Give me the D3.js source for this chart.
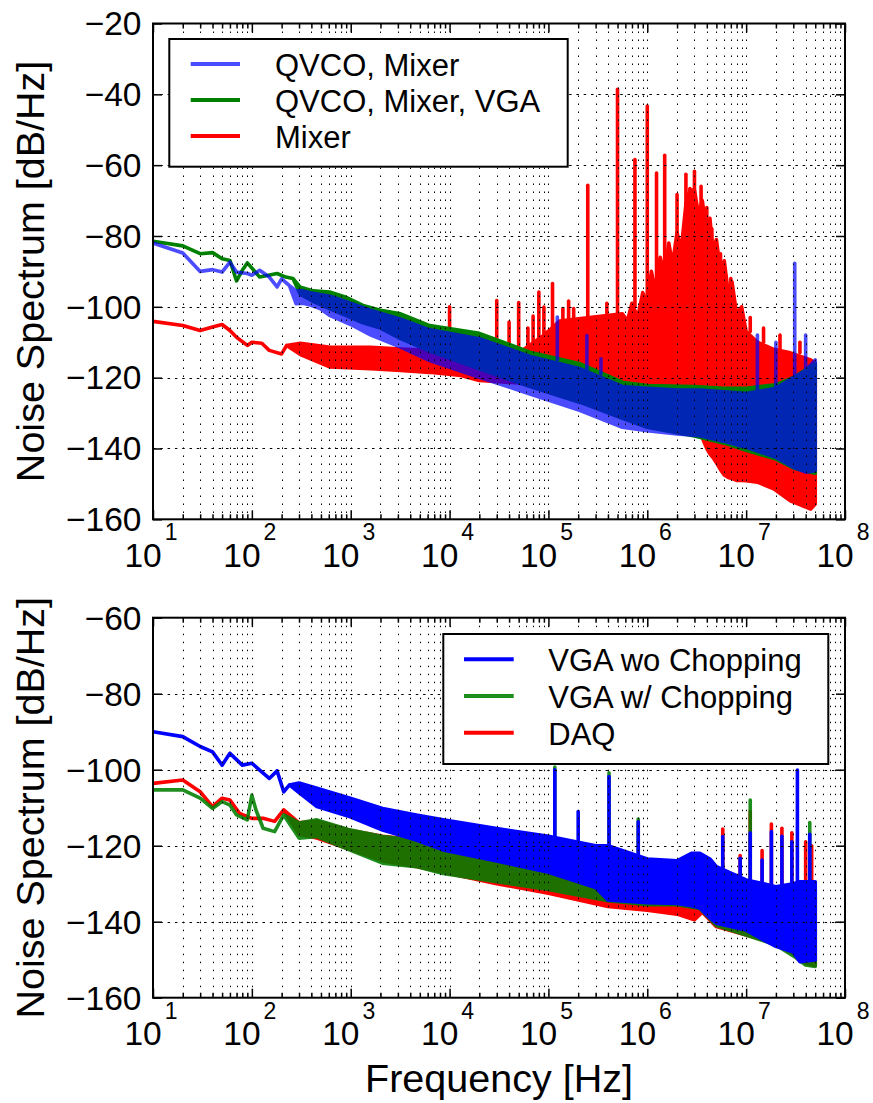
<!DOCTYPE html>
<html><head><meta charset="utf-8">
<script src="https://cdn.jsdelivr.net/npm/d3@7"></script>
<style>
body{margin:0;background:#fff}
svg{display:block}
text{font-family:"Liberation Sans",Arial,Helvetica,sans-serif;fill:#000}
</style>
</head><body>
<svg id="c" width="873" height="1103"></svg>
<script>
// ---------------- DATA ----------------
const xTickExps = [1,2,3,4,5,6,7,8];
const minorMults = [2,3,4,5,6,7,8,9];
const topYTicks = [-160,-140,-120,-100,-80,-60,-40,-20];
const botYTicks = [-160,-140,-120,-100,-80,-60];
const xLabel = "Frequency [Hz]";
const yLabel = "Noise Spectrum [dB/Hz]";
const topLegend = ["QVCO, Mixer", "QVCO, Mixer, VGA", "Mixer"];
const botLegend = ["VGA wo Chopping", "VGA w/ Chopping", "DAQ"];

// Top panel: QVCO, Mixer (blue)
const topBlueF  = [10,20,30,40,50,60,70,90,100,120,150,180,200,240,280,330,390,490,620,1000,1600,3200,6300,2e4,6.5e4,2.1e5,5.6e5,1e6,2e6,3.4e6,6e6,1e7,2e7,3e7,4e7,5e7];
const topBlueHi = [-82,-84.8,-90,-89.5,-90.2,-87.4,-90.2,-90.6,-91.1,-89.7,-91.6,-94.4,-92.1,-94,-95.5,-95.5,-96,-96.5,-97,-99,-101,-103.5,-106.5,-109,-114,-117.5,-122.5,-123,-123.5,-123.5,-124,-124.5,-123,-120,-118,-115];
const topBlueLo = [-82,-84.8,-90,-89.5,-90.2,-87.4,-90.2,-90.6,-91.1,-89.7,-91.6,-94.4,-92.1,-94,-99.1,-99,-99.5,-100.5,-102.5,-105,-108,-111.4,-115.2,-119.9,-124.6,-129.3,-134,-135,-135.9,-136.4,-138,-139.7,-142.5,-145.3,-146.7,-146.3];
const topBlueSpikes = [[1.23e5,-115,-102.9],[2.45e5,-118,-108.1],[3.4e5,-119,-114.7],[1.3e7,-124,-108],[2e7,-123,-110],[3.1e7,-120,-87.7],[4e7,-118,-108]];

// Top panel: QVCO, Mixer, VGA (green)
const topGreenF  = [10,20,30,40,50,60,70,80,90,120,180,220,260,310,420,610,900,1330,2000,3200,6300,2e4,6.5e4,2.1e5,5.6e5,1e6,3e6,6e6,1e7,2e7,3e7,5e7];
const topGreenHi = [-81.5,-82.8,-85,-84.7,-86.4,-86.9,-92.7,-89.7,-87.6,-91.6,-90.6,-91.6,-92,-94.5,-95.5,-95.8,-97.3,-99.6,-101,-102,-105.3,-107.5,-112.8,-116.1,-121.3,-122.2,-122.5,-123,-123,-122,-120,-116];
const topGreenLo = [-81.5,-82.8,-85,-84.7,-86.4,-86.9,-92.7,-89.7,-87.6,-91.6,-90.6,-91.6,-92,-96.5,-98.5,-100.5,-102.5,-104.5,-106,-109,-112.5,-117.5,-122.5,-127,-131.5,-134,-136.5,-138.5,-140.5,-143,-145.5,-147];
const topGreenSpikes = [];

// Top panel: Mixer (red)
const topRedF  = [10,20,30,40,50,60,70,90,100,126,150,200,225,310,620,1600,3200,6300,1.3e4,2e4,5e4,9e4,1.3e5,2.6e5,5.6e5,6.3e5,7e5,8e5,9e5,1e6,1.1e6,1.2e6,1.35e6,1.5e6,1.65e6,1.8e6,2e6,2.2e6,2.46e6,2.7e6,3e6,3.3e6,3.6e6,4e6,4.3e6,4.6e6,5e6,5.5e6,6e6,6.6e6,7.2e6,8e6,9e6,1e7,1.3e7,1.9e7,2.8e7,4.5e7,5e7];
const topRedHi = [-104.1,-105.3,-106.7,-105.7,-105,-106.7,-108.6,-110.9,-110,-110.3,-112.3,-113.3,-110.9,-110.3,-111.4,-111.4,-111.9,-112.3,-112.5,-113,-113,-108,-104,-103,-102,-104,-99,-103,-96,-99,-90,-95,-86,-91,-82,-88,-79,-84,-71,-67,-67,-74,-70,-79,-75,-84,-81,-90,-87,-96,-93,-102,-100,-107,-110,-112,-113,-115,-116];
const topRedLo = [-104.1,-105.3,-106.7,-105.7,-105,-106.7,-108.6,-110.9,-110,-110.3,-112.3,-113.3,-110.9,-113.5,-117,-117.5,-118,-118.5,-119.4,-120.8,-121.5,-123,-124,-126,-129,-129.5,-130,-130.5,-131,-131.5,-132,-132.5,-133,-133.5,-134,-134,-134.5,-135,-135,-135.5,-136,-136.5,-137,-140,-141.5,-142.5,-144,-146,-147.5,-148.2,-148.5,-149,-149,-149.1,-149.5,-151.4,-154.8,-157.1,-155.7];
const topRedSpikes = [[1e4,-112,-100],[3e4,-112,-98.2],[4e4,-112,-104.3],[5e4,-112,-98.8],[6.2e4,-112,-106],[7e4,-112,-102.6],[8e4,-110,-95.8],[9e4,-108,-100.1],[1.1e5,-106,-93.4],[1.4e5,-104,-100.5],[1.6e5,-104,-98.4],[1.8e5,-104,-100.5],[2.5e5,-103,-65.7],[3.9e5,-103,-99],[5e5,-102,-38.6],[7.5e5,-100,-58.4],[1e6,-97,-43.3],[1.24e6,-93,-62.2],[1.5e6,-90,-57.2],[2e6,-84,-68.3],[2.46e6,-78,-62.6],[2.7e6,-77,-66.6],[3e6,-76,-61.7],[3.5e6,-78,-66],[4e6,-80,-72],[4.5e6,-85,-78],[5.5e6,-90,-85],[7e6,-98,-92],[1.1e7,-107,-103],[1.5e7,-110,-106],[2.2e7,-112,-108],[3.5e7,-113,-110]];

// Bottom panel: VGA wo Chopping (blue)
const botBlueF  = [10,20,30,40,50,60,80,100,120,150,180,210,240,300,455,990,2100,4600,8600,3e4,1e5,3e5,4e5,1e6,2e6,2.8e6,3.4e6,4.3e6,5e6,1e7,1.5e7,2e7,3e7,3.5e7,5e7];
const botBlueHi = [-90,-91.3,-93.9,-95.3,-98.8,-95.7,-98.8,-98.3,-100.1,-102.3,-100.3,-105.8,-104,-103.5,-104.9,-107.5,-110.2,-111.9,-113.2,-115.5,-117.5,-120,-120,-123.5,-124,-122,-122,-123.5,-125.5,-129,-130,-130.8,-130,-129.5,-129.5];
const botBlueLo = [-90,-91.3,-93.9,-95.3,-98.8,-95.7,-98.8,-98.3,-100.1,-102.3,-100.3,-105.8,-104,-106,-109.7,-112.4,-115.9,-118.5,-121.1,-124,-127,-131,-134.3,-135,-135.2,-135.8,-136.4,-139,-140.4,-142.2,-144.8,-146.5,-148,-150.5,-150.1];
const botBlueSpikes = [[1.16e5,-118,-100],[2e5,-120,-111],[4.1e5,-121,-101.8],[8.1e5,-123,-113.7],[5.8e6,-126,-117.6],[8.7e6,-128,-123.3],[1.1e7,-129,-116.7],[1.45e7,-130,-123.8],[1.8e7,-130,-116.3],[2.3e7,-130,-117.5],[2.9e7,-130,-119],[3.3e7,-130,-100.1],[4.4e7,-130,-117]];

// Bottom panel: VGA w/ Chopping (green)
const botGreenF  = [10,20,30,40,50,60,70,90,100,110,130,170,210,300,455,1e3,2.1e3,4.6e3,8.6e3,3e4,1e5,4e5,1e6,2e6,3.4e6,5e6,1e7,1.5e7,2e7,3e7,4e7,5e7];
const botGreenHi = [-105.3,-105.3,-107.5,-110.2,-108.4,-109.3,-111.9,-113.2,-106.7,-110.6,-115.4,-116.3,-111.9,-114,-113.2,-115.9,-117.6,-118.5,-118.5,-120,-122,-124,-125,-125,-124.5,-127,-130,-131,-132,-132,-131.5,-131.5];
const botGreenLo = [-105.3,-105.3,-107.5,-110.2,-108.4,-109.3,-111.9,-113.2,-106.7,-110.6,-115.4,-116.3,-111.9,-118,-117.6,-121.2,-124.6,-125.5,-127.3,-129.5,-131.5,-134.5,-135.5,-135.5,-136.5,-141,-143.5,-145,-146.1,-149,-151.4,-151.8];
const botGreenSpikes = [[1.16e5,-123,-99.3],[4.1e5,-125,-100.8],[8.1e5,-126,-113],[1.1e7,-131,-108],[4.4e7,-132,-113.9]];

// Bottom panel: DAQ (red)
const botRedF  = [10,20,30,40,50,60,75,100,130,170,210,300,455,1e3,2.1e3,4.6e3,8.6e3,3e4,1e5,4e5,1e6,2e6,3e6,3.6e6,5e6,1e7,1.5e7,2e7,3e7,4e7,5e7];
const botRedHi = [-103.6,-102.7,-105.8,-109.7,-107.5,-108,-111.5,-112.8,-112.8,-113.6,-110.6,-114,-113.5,-116,-117.5,-118.5,-119,-120.5,-122.5,-124.5,-125.5,-125.5,-125,-125,-127.5,-130.5,-131.5,-132.5,-132.5,-132,-132];
const botRedLo = [-103.6,-102.7,-105.8,-109.7,-107.5,-108,-111.5,-112.8,-112.8,-113.6,-110.6,-117,-118,-121,-124,-125.5,-127,-130,-132.5,-136,-137,-138,-139.5,-137.5,-141.3,-143.5,-144.8,-146,-148.5,-151,-151.5];
const botRedSpikes = [[5.8e6,-128,-115.6],[8.7e6,-130,-122.6],[1.1e7,-131,-111],[1.45e7,-131,-121.3],[1.8e7,-132,-114.3],[2.3e7,-132,-115.4],[2.9e7,-132,-116.6],[4e7,-132,-119],[4.6e7,-132,-120]];

// ---------------- DRAW ----------------
const svg = d3.select('#c');
const X0 = 153, X1 = 845;
const x = d3.scaleLog().domain([10, 1e8]).range([X0, X1]);
const majorX = xTickExps.map(e => Math.pow(10, e));
const minorX = [];
xTickExps.slice(0, -1).forEach(e => minorMults.forEach(m => minorX.push(m * Math.pow(10, e))));

function series(f, hi, lo, spikes, color, opacity) {
  return {pts: f.map((v, i) => ({f: v, hi: hi[i], lo: lo[i]})), spikes, color, opacity};
}

function drawPanel(p, idx) {
  const y = d3.scaleLinear().domain([p.yTicks[0], p.yTicks[p.yTicks.length - 1]]).range([p.bottom, p.top]);
  const clipId = 'clip' + idx;
  svg.append('clipPath').attr('id', clipId).append('rect')
    .attr('x', X0).attr('y', p.top).attr('width', X1 - X0).attr('height', p.bottom - p.top);
  const g = svg.append('g');
  const area = d3.area().x(d => x(d.f)).y0(d => y(d.lo)).y1(d => y(d.hi)).curve(d3.curveLinear);

  p.series.forEach(s => {
    const sg = g.append('g').attr('clip-path', `url(#${clipId})`).attr('opacity', s.opacity);
    sg.append('path').datum(s.pts).attr('d', area)
      .attr('fill', s.color).attr('stroke', s.color).attr('stroke-width', 3.6)
      .attr('stroke-linejoin', 'round');
    sg.selectAll('line.sp').data(s.spikes).join('line').attr('class', 'sp')
      .attr('x1', d => x(d[0])).attr('x2', d => x(d[0]))
      .attr('y1', d => y(d[1])).attr('y2', d => y(d[2]))
      .attr('stroke', s.color).attr('stroke-width', 3.6).attr('stroke-linecap', 'round');
  });

  // grid (drawn over data, like the reference)
  const grid = svg.append('g').attr('stroke', '#000').attr('stroke-width', 1).attr('fill', 'none');
  grid.selectAll('line.v').data(majorX.concat(minorX).filter(v => v > 10 && v < 1e8)).join('line')
    .attr('x1', d => Math.round(x(d)) + 0.5).attr('x2', d => Math.round(x(d)) + 0.5)
    .attr('y1', p.top).attr('y2', p.bottom).attr('stroke-dasharray', '1.5,6.5');
  grid.selectAll('line.h').data(p.yTicks.slice(1, -1)).join('line')
    .attr('x1', X0).attr('x2', X1)
    .attr('y1', d => Math.round(y(d)) + 0.5).attr('y2', d => Math.round(y(d)) + 0.5)
    .attr('stroke-dasharray', '2.5,4.8');

  // ticks (inward, all four sides)
  const tk = (axis) => axis.tickFormat('').tickSizeOuter(0);
  const addAxis = (axis, tx, ty) => {
    const a = svg.append('g').attr('transform', `translate(${tx},${ty})`).call(axis);
    a.select('.domain').remove();
    a.selectAll('line').attr('stroke', '#000').attr('stroke-width', 1.5);
  };
  addAxis(tk(d3.axisBottom(x).tickValues(majorX).tickSizeInner(-9)), 0, p.bottom);
  addAxis(tk(d3.axisBottom(x).tickValues(minorX).tickSizeInner(-5)), 0, p.bottom);
  addAxis(tk(d3.axisTop(x).tickValues(majorX).tickSizeInner(-9)), 0, p.top);
  addAxis(tk(d3.axisTop(x).tickValues(minorX).tickSizeInner(-5)), 0, p.top);
  addAxis(tk(d3.axisLeft(y).tickValues(p.yTicks).tickSizeInner(-9)), X0, 0);
  addAxis(tk(d3.axisRight(y).tickValues(p.yTicks).tickSizeInner(-9)), X1, 0);

  // frame
  svg.append('rect').attr('x', X0).attr('y', p.top).attr('width', X1 - X0).attr('height', p.bottom - p.top)
    .attr('fill', 'none').attr('stroke', '#000').attr('stroke-width', 2);

  // y tick labels
  svg.append('g').selectAll('text').data(p.yTicks).join('text')
    .attr('x', 141.5).attr('y', d => y(d) + 11.8).attr('text-anchor', 'end')
    .attr('font-size', 33.5).text(d => (d < 0 ? '\u2212' : '') + Math.abs(d));

  // x tick labels 10^n
  const xl = svg.append('g').selectAll('text').data(xTickExps).join('text')
    .attr('x', d => x(Math.pow(10, d)) - 2).attr('y', p.bottom + 47.4).attr('text-anchor', 'middle');
  xl.append('tspan').attr('font-size', 33.5).text('10');
  xl.append('tspan').attr('font-size', 23).attr('dx', 3).attr('dy', -26.5).text(d => d);

  // y label
  const cy = (p.top + p.bottom) / 2;
  svg.append('text').attr('transform', `translate(43.5,${cy}) rotate(-90)`)
    .attr('text-anchor', 'middle').attr('font-size', 39.5).text(yLabel);

  // legend
  const L = p.legend;
  svg.append('rect').attr('x', L.x).attr('y', L.y).attr('width', L.w).attr('height', L.h)
    .attr('fill', '#fff').attr('stroke', '#000').attr('stroke-width', 2);
  const lg = svg.append('g').selectAll('g').data(L.items).join('g');
  lg.append('line').attr('x1', L.lx0).attr('x2', L.lx1)
    .attr('y1', (d, i) => L.ly0 + i * L.dy).attr('y2', (d, i) => L.ly0 + i * L.dy)
    .attr('stroke', (d, i) => p.legendColors[i].color).attr('opacity', (d, i) => p.legendColors[i].opacity)
    .attr('stroke-width', 4);
  lg.append('text').attr('x', L.tx).attr('y', (d, i) => L.ly0 + i * L.dy + 12)
    .attr('font-size', 31).text(d => d);
}

const topBlue = series(topBlueF, topBlueHi, topBlueLo, topBlueSpikes, '#0000ff', 0.7);
const topGreen = series(topGreenF, topGreenHi, topGreenLo, topGreenSpikes, '#008000', 1);
const topRed = series(topRedF, topRedHi, topRedLo, topRedSpikes, '#ff0000', 1);

drawPanel({
  top: 23.5, bottom: 519.3, yTicks: topYTicks,
  series: [topRed, topGreen, topBlue],
  legendColors: [topBlue, topGreen, topRed],
  legend: {x: 169.3, y: 39, w: 398.4, h: 127.7, lx0: 190.7, lx1: 240, ly0: 64, dy: 36, tx: 275, items: topLegend}
}, 0);

const botBlue = series(botBlueF, botBlueHi, botBlueLo, botBlueSpikes, '#0000ff', 1);
const botGreen = series(botGreenF, botGreenHi, botGreenLo, botGreenSpikes, '#008000', 0.88);
const botRed = series(botRedF, botRedHi, botRedLo, botRedSpikes, '#ff0000', 1);

drawPanel({
  top: 617.7, bottom: 997.7, yTicks: botYTicks,
  series: [botRed, botGreen, botBlue],
  legendColors: [botBlue, botGreen, botRed],
  legend: {x: 443.3, y: 634, w: 385, h: 130, lx0: 464, lx1: 513.7, ly0: 659.3, dy: 36.7, tx: 548.3, items: botLegend}
}, 1);

// x label
svg.append('text').attr('x', (X0 + X1) / 2).attr('y', 1092).attr('text-anchor', 'middle')
  .attr('font-size', 39.5).text(xLabel);
</script>
</body></html>
